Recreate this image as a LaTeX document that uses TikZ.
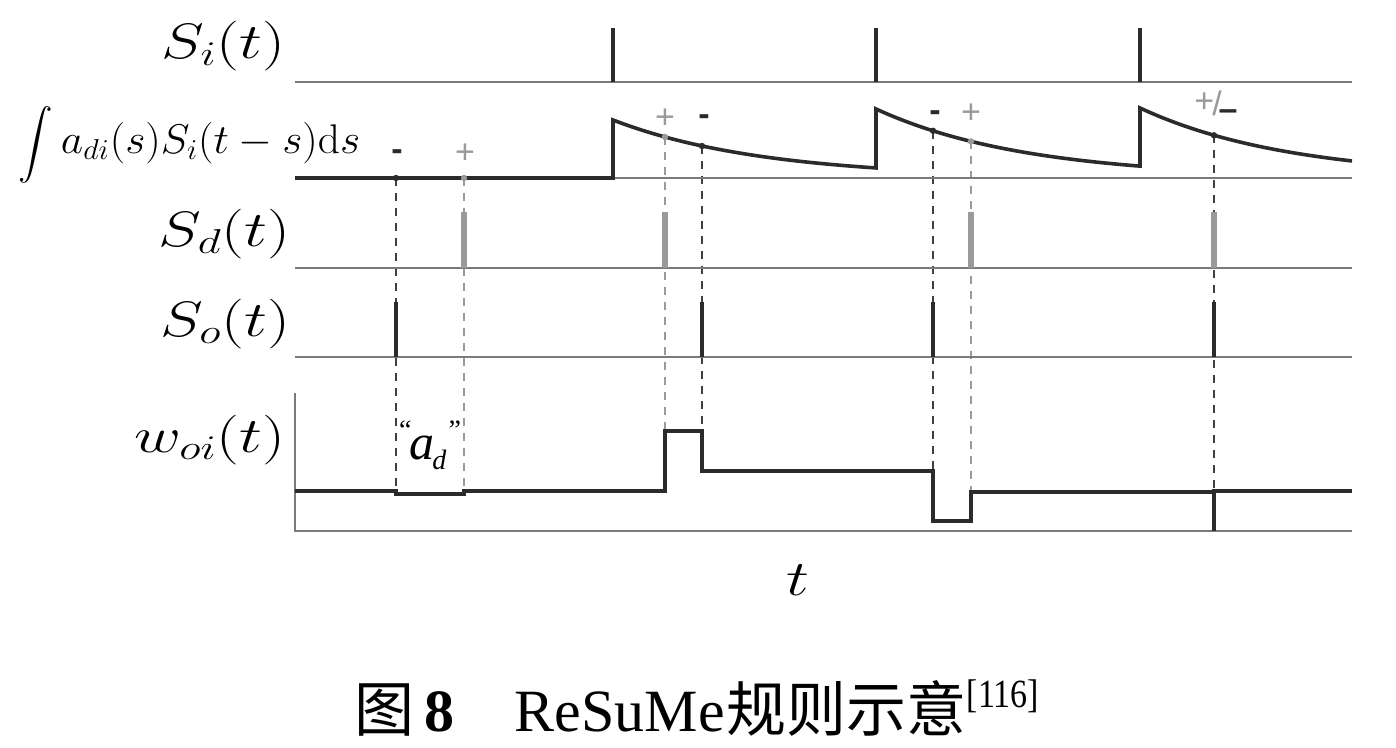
\documentclass[tikz,border=0pt]{standalone}
\usepackage{amsmath}
\usepackage[no-math]{fontspec}
\setmainfont{Liberation Serif}
\newfontfamily\cjk{Noto Sans CJK SC}
\newfontfamily\sansf{Liberation Sans}
\definecolor{dk}{HTML}{2B2B2B}
\definecolor{gr}{HTML}{9A9A9A}
\definecolor{ax}{HTML}{7A7A7A}
\newcommand{\wlab}[1]{\scalebox{1.3}[1]{$#1$}}
\begin{document}
\begin{tikzpicture}[x=0.5pt,y=-0.5pt,
  axisline/.style={draw=ax, line width=0.8pt},
  spk/.style={draw=dk, line width=2pt},
  gspk/.style={draw=gr, line width=2.6pt},
  trace/.style={draw=dk, line width=1.8pt, line join=miter},
  ddash/.style={draw=dk!90, line width=0.7pt, dash pattern=on 4pt off 3.5pt},
  gdash/.style={draw=gr, line width=0.7pt, dash pattern=on 4pt off 3.5pt},
  lab/.style={inner sep=0pt, font=\fontsize{24}{28}\selectfont},
  sgn/.style={inner sep=0pt, font=\sansf\fontsize{17}{19}\selectfont},
  ddot/.style={circle, fill=dk, inner sep=0pt, minimum size=3.2pt},
  gdot/.style={circle, fill=gr, inner sep=0pt, minimum size=3.2pt}]
\useasboundingbox (0,0) rectangle (1396,748);

% coordinates on the integral trace
\coordinate (p1) at (396,178);
\coordinate (p2) at (464,178);
\coordinate (p3) at (665,137.0);
\coordinate (p4) at (702,146.0);
\coordinate (p5) at (933,130.8);
\coordinate (p6) at (971,141.4);
\coordinate (p7) at (1214,135.3);
% coordinates on the w trace
\coordinate (q1) at (396,491);
\coordinate (q2) at (464,491);
\coordinate (q3) at (665,431);
\coordinate (q4) at (702,431);
\coordinate (q5) at (933,471);
\coordinate (q6) at (971,492);
\coordinate (q7) at (1214,492);

% dashed guide lines
\draw[ddash] (p1) -- (q1);
\draw[gdash] (p2) -- (q2);
\draw[gdash] (p3) -- (q3);
\draw[ddash] (p4) -- (q4);
\draw[ddash] (p5) -- (q5);
\draw[gdash] (p6) -- (q6);
\draw[ddash] (p7) -- (q7);

% base lines
\draw[axisline] (295,82) -- (1352,82);
\draw[axisline] (295,178) -- (1352,178);
\draw[axisline] (295,268) -- (1352,268);
\draw[axisline] (295,357) -- (1352,357);
\draw[axisline] (295,393) -- (295,531) -- (1352,531);

% S_i spikes
\foreach \xx in {613,876,1140} \draw[spk] (\xx,28) -- (\xx,82);
% S_d spikes
\foreach \xx in {464,665,971,1214} \draw[gspk] (\xx,212) -- (\xx,268);
% S_o spikes
\foreach \xx in {396,702,933,1214} \draw[spk] (\xx,302) -- (\xx,357);

% integral trace
\draw[trace] (295,178) -- (613,178) -- (613,120)
  -- plot[domain=613:876,samples=50] (\x,{178-58*exp(-(\x-613)/150)})
  -- (876,109)
  -- plot[domain=876:1140,samples=50] (\x,{178-69*exp(-(\x-876)/150)})
  -- (1140,108)
  -- plot[domain=1140:1352,samples=40] (\x,{178-70*exp(-(\x-1140)/150)});

% dots
\node[ddot] at (p1) {};
\node[gdot] at (p2) {};
\node[gdot] at (p3) {};
\node[ddot] at (p4) {};
\node[ddot] at (p5) {};
\node[gdot] at (p6) {};
\node[ddot] at (p7) {};

% signs
\node[sgn, text=dk] (s1) at (397,155) {\textbf{-}};
\node[sgn, text=gr] (s2) at (465,154) {+};
\node[sgn, text=dk] (s4) at (704,120) {\textbf{-}};
\node[sgn, text=gr] (s3) at (665,119) {+};
\node[sgn, text=dk] (s5) at (935,116) {\textbf{-}};
\node[sgn, text=gr] (s6) at (971,114) {+};
\node[sgn] (s7) at (1216,106) {\textcolor{gr}{\raisebox{1.5pt}{+}}\kern-1pt\textcolor{gr}{/}\kern-1.5pt\textcolor{dk}{\raisebox{-2.5pt}{\textbf{–}}}};

% w trace
\draw[trace] (295,491) -- (396,491) -- (396,494) -- (464,494) -- (464,491)
  -- (665,491) -- (665,431) -- (702,431) -- (702,471) -- (933,471)
  -- (933,521) -- (971,521) -- (971,492) -- (1214,492) -- (1214,491) -- (1352,491);
\draw[spk] (q7) -- (1214,531);

% labels
\node[lab, anchor=east] (lsi) at (286,46) {\wlab{S_i(t)}};
\node[lab, anchor=west, font=\fontsize{22}{26}\selectfont] (lint) at (18,145)
  {{\fontsize{16}{18}\selectfont$\displaystyle\int$}\kern4pt\scalebox{1.05}[1]{$a_{di}(s)S_i(t-s)\mathrm{d}s$}};
\node[lab, anchor=east] (lsd) at (291,234) {\wlab{S_d(t)}};
\node[lab, anchor=east] (lso) at (291,324) {\wlab{S_o(t)}};
\node[lab, anchor=east] (lw) at (286,440) {\wlab{w_{oi}(t)}};
\node[lab] (lt) at (798,580) {\wlab{t}};
\node[inner sep=0pt, font=\fontsize{25}{28}\selectfont] (lad) at (430,445)
  {\raisebox{10pt}{\fontsize{14}{16}\selectfont``}\kern-1pt\textit{a}\kern-1pt\raisebox{-5pt}{\fontsize{14}{16}\selectfont\textit{d}}\kern1pt\raisebox{10pt}{\fontsize{14}{16}\selectfont''}};

% caption
\node[inner sep=0pt, font=\fontsize{30}{34}\selectfont] (cap) at (697,708)
  {{\cjk 图}\,\textbf{8}\quad ReSuMe\kern1pt{\cjk 规则示意}\raisebox{12pt}{\fontsize{20}{22}\selectfont\scalebox{0.85}[1]{[116]}}};
\end{tikzpicture}
\end{document}
